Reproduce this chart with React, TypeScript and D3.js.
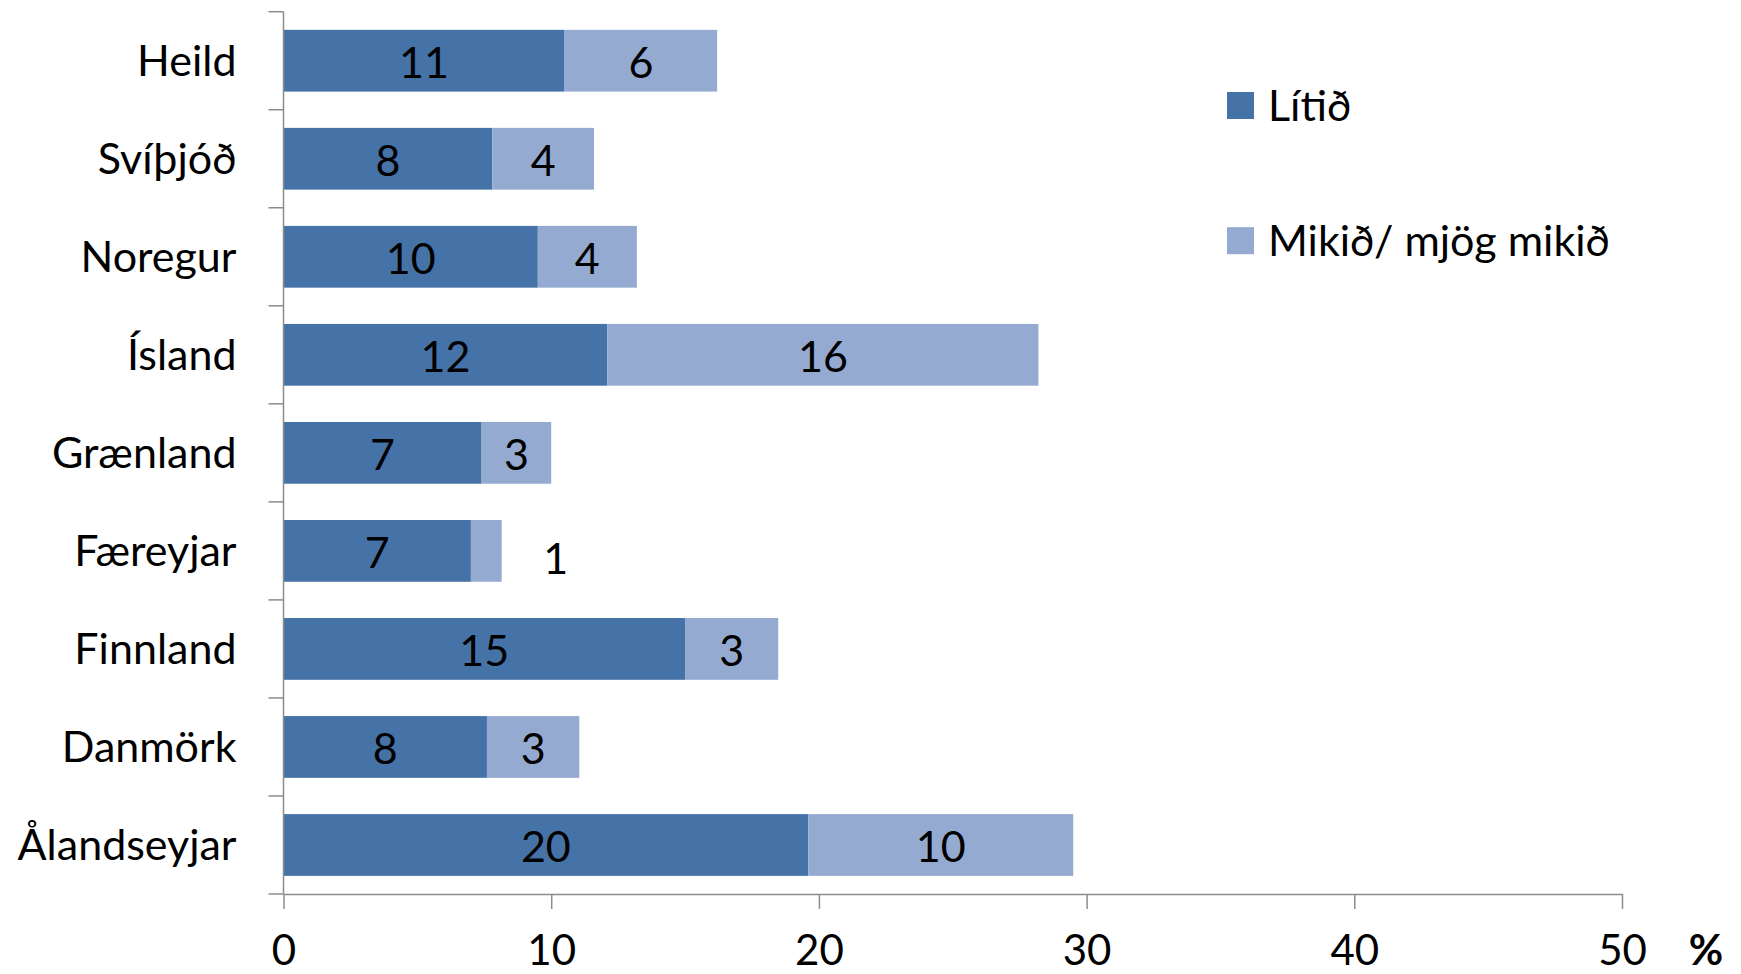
import React, { useEffect, useRef } from 'react';
import * as d3 from 'd3';

// Categories top to bottom
const categories = [
  'Heild',
  'Svíþjóð',
  'Noregur',
  'Ísland',
  'Grænland',
  'Færeyjar',
  'Finnland',
  'Danmörk',
  'Ålandseyjar',
];

// Series values (%)
const litid = [10.5, 7.8, 9.5, 12.1, 7.4, 7.0, 15.0, 7.6, 19.6];
const mikid = [5.7, 3.8, 3.7, 16.1, 2.6, 1.15, 3.48, 3.45, 9.9];

const seriesNames = ['Lítið', 'Mikið/ mjög mikið'];
const seriesColors = ['#4673A7', '#95AAD0'];

const xTicks = [0, 10, 20, 30, 40, 50];

const WIDTH = 1741;
const HEIGHT = 974;
const FONT = 'Lato, "Open Sans", sans-serif';

const App: React.FC = () => {
  const svgRef = useRef<SVGSVGElement>(null);

  useEffect(() => {
    document.body.style.margin = '0';
    if (!svgRef.current) return;

    const margin = { top: 11.7, right: 119, bottom: 80, left: 283.5 };
    const plotW = WIDTH - margin.left - margin.right;
    const plotH = HEIGHT - margin.top - margin.bottom;

    const svg = d3.select(svgRef.current);
    svg.selectAll('*').remove();

    const g = svg.append('g')
      .attr('transform', `translate(${margin.left},${margin.top})`);

    // Scales
    const x = d3.scaleLinear().domain([0, 50]).range([0, plotW]);
    const y = d3.scaleBand()
      .domain(categories)
      .range([0, plotH])
      .paddingInner(0.37)
      .paddingOuter(0.185);

    const rows = categories.map((c, i) => ({
      cat: c,
      segs: [
        { key: 0, x0: 0, x1: litid[i], v: litid[i] },
        { key: 1, x0: litid[i], x1: litid[i] + mikid[i], v: mikid[i] },
      ],
    }));

    // Bars
    const rowG = g.selectAll('.row')
      .data(rows)
      .enter()
      .append('g')
      .attr('class', 'row')
      .attr('transform', d => `translate(0,${y(d.cat)})`);

    rowG.selectAll('rect')
      .data(d => d.segs)
      .enter()
      .append('rect')
      .attr('x', d => x(d.x0))
      .attr('width', d => x(d.x1) - x(d.x0))
      .attr('y', 0)
      .attr('height', y.bandwidth())
      .attr('fill', d => seriesColors[d.key]);

    // Data labels (small segments get their label pushed outside, like Excel did)
    rowG.selectAll('text.val')
      .data(d => d.segs)
      .enter()
      .append('text')
      .attr('class', 'val')
      .attr('x', d => {
        const w = x(d.x1) - x(d.x0);
        return w < 40 ? x(d.x1) + 54 : (x(d.x0) + x(d.x1)) / 2;
      })
      .attr('y', d => y.bandwidth() / 2 + (x(d.x1) - x(d.x0) < 40 ? 8 : 1.5))
      .attr('dy', '0.36em')
      .attr('text-anchor', 'middle')
      .style('font-family', FONT)
      .style('font-size', '43px')
      .style('fill', '#000')
      .text(d => Math.round(d.v));

    // Y axis line and boundary ticks
    const axisColor = '#8C8C8C';
    g.append('line')
      .attr('x1', 0).attr('x2', 0)
      .attr('y1', 0).attr('y2', plotH)
      .attr('stroke', axisColor)
      .attr('stroke-width', 1.5);

    g.selectAll('.ytick')
      .data(d3.range(categories.length + 1))
      .enter()
      .append('line')
      .attr('class', 'ytick')
      .attr('x1', -15).attr('x2', 0)
      .attr('y1', i => i * y.step())
      .attr('y2', i => i * y.step())
      .attr('stroke', axisColor)
      .attr('stroke-width', 1.5);

    // Category labels
    g.selectAll('.cat')
      .data(categories)
      .enter()
      .append('text')
      .attr('class', 'cat')
      .attr('x', -47)
      .attr('y', d => (y(d) || 0) + y.bandwidth() / 2)
      .attr('dy', '0.35em')
      .attr('text-anchor', 'end')
      .style('font-family', FONT)
      .style('font-size', '43px')
      .style('fill', '#000')
      .text(d => d);

    // X axis
    const xAxis = g.append('g')
      .attr('class', 'x-axis')
      .attr('transform', `translate(0,${plotH})`)
      .call(d3.axisBottom(x).tickValues(xTicks).tickSize(15).tickPadding(26).tickSizeOuter(0));

    xAxis.select('.domain')
      .attr('stroke', axisColor)
      .attr('stroke-width', 1.5);
    xAxis.selectAll('.tick line')
      .attr('stroke', axisColor)
      .attr('stroke-width', 1.5);
    xAxis.selectAll('.tick text')
      .style('font-family', FONT)
      .style('font-size', '42px')
      .style('fill', '#000');

    // Unit label
    g.append('text')
      .attr('x', x(50) + 84)
      .attr('y', plotH + 56)
      .attr('dy', '0.36em')
      .attr('text-anchor', 'middle')
      .style('font-family', FONT)
      .style('font-size', '42px')
      .style('font-weight', 'bold')
      .style('fill', '#000')
      .text('%');

    // Legend
    const legend = svg.append('g').attr('transform', 'translate(1227,0)');
    const legendY = [105.5, 240.7];
    seriesNames.forEach((name, i) => {
      legend.append('rect')
        .attr('x', 0)
        .attr('y', legendY[i] - 13.5)
        .attr('width', 27)
        .attr('height', 27)
        .attr('fill', seriesColors[i]);
      legend.append('text')
        .attr('x', 41)
        .attr('y', legendY[i])
        .attr('dy', '0.35em')
        .style('font-family', FONT)
        .style('font-size', '43px')
        .style('fill', '#000')
        .text(name);
    });
  }, []);

  return (
    <svg
      ref={svgRef}
      width={WIDTH}
      height={HEIGHT}
      style={{ display: 'block', background: '#fff' }}
    />
  );
};

export default App;
